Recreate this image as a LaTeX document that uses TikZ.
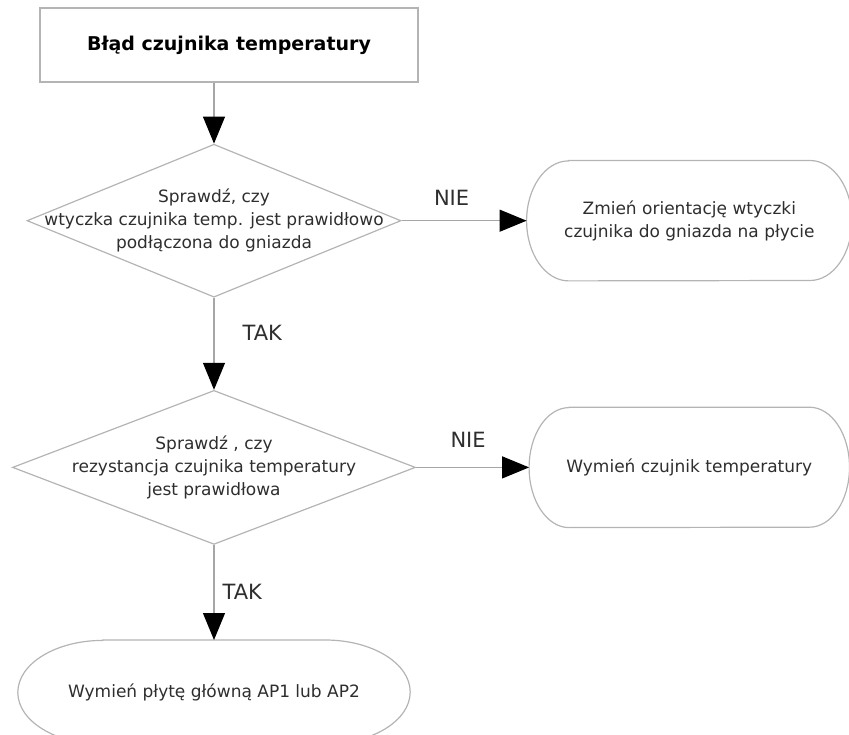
\documentclass[tikz,border=0pt]{standalone}
\usepackage{fontspec}
\setmainfont{DejaVu Sans}
\usetikzlibrary{shapes.geometric, positioning, arrows.meta}

\definecolor{framegray}{HTML}{B4B4B4}
\definecolor{linegray}{HTML}{A6A6A6}
\definecolor{txtgray}{HTML}{2E2E2E}

\newcommand\bodyfont{\fontsize{17}{23}\selectfont}

% outline with elliptic ends around a plain node: #1 node, #2 end width, #3 half height
\newcommand\ovalframe[3]{%
  \draw[frame] ([xshift=#2]#1.north west) -- ([xshift=-#2]#1.north east)
    arc[start angle=90, end angle=-90, x radius=#2, y radius=#3]
    -- ([xshift=#2]#1.south west)
    arc[start angle=270, end angle=90, x radius=#2, y radius=#3] -- cycle;}

\begin{document}
\begin{tikzpicture}[->, x=1pt, y=1pt,
    >={Triangle[length=27pt, width=22pt, color=black]},
    every node/.style={text=txtgray},
    frame/.style={-, draw=framegray, line width=1.2pt},
    box/.style={draw=framegray, line width=1.2pt, minimum width=378pt,
      minimum height=74pt, font=\fontsize{19}{23}\selectfont\bfseries, text=black},
    decision/.style={diamond, draw=framegray, line width=1.2pt, inner sep=0pt},
    oval/.style={inner sep=0pt, align=center, font=\bodyfont},
    txt/.style={align=center, font=\bodyfont},
    lbl/.style={font=\fontsize{21}{25}\selectfont, inner sep=0pt},
    flow/.style={draw=linegray, line width=1.2pt}]
    \useasboundingbox (0,0) rectangle (849,-735);

    \node[box] (title) at (229,-45) {Błąd czujnika temperatury};

    \node[decision, minimum width=374pt, minimum height=153pt,
      below=61pt of title, xshift=-15pt] (d1) {};
    \node[txt] (d1txt) at (d1) {Sprawdź, czy\\wtyczka czujnika temp. jest prawidłowo\\podłączona do gniazda};
    \node[oval, minimum width=325pt, minimum height=120pt, right=125pt of d1] (r1)
      {Zmień orientację wtyczki\\czujnika do gniazda na płycie};

    \node[decision, minimum width=403pt, minimum height=154pt, below=92pt of d1] (d2) {};
    \node[txt] (d2txt) at (d2) {Sprawdź , czy\\rezystancja czujnika temperatury\\jest prawidłowa};
    \node[oval, minimum width=320pt, minimum height=120pt, right=113pt of d2] (r2)
      {Wymień czujnik temperatury};

    \node[oval, minimum width=392pt, minimum height=104pt, below=95pt of d2] (r3)
      {Wymień płytę główną AP1 lub AP2};

    \ovalframe{r1}{42pt}{60pt}
    \ovalframe{r2}{40pt}{60pt}
    \ovalframe{r3}{85pt}{52pt}

    \draw[flow] (d1.north |- title.south) -- (d1);
    \draw[flow] (d1) -- node[lbl, pos=0.4, above=15pt] (nie1) {NIE} (r1);
    \draw[flow] (d1) -- node[lbl, pos=0.38, right=28pt] (tak1) {TAK} (d2);
    \draw[flow] (d2) -- node[lbl, pos=0.46, above=19pt] (nie2) {NIE} (r2);
    \draw[flow] (d2) -- node[lbl, pos=0.49, right=8pt] (tak2) {TAK} (r3);
  \end{tikzpicture}
\end{document}
